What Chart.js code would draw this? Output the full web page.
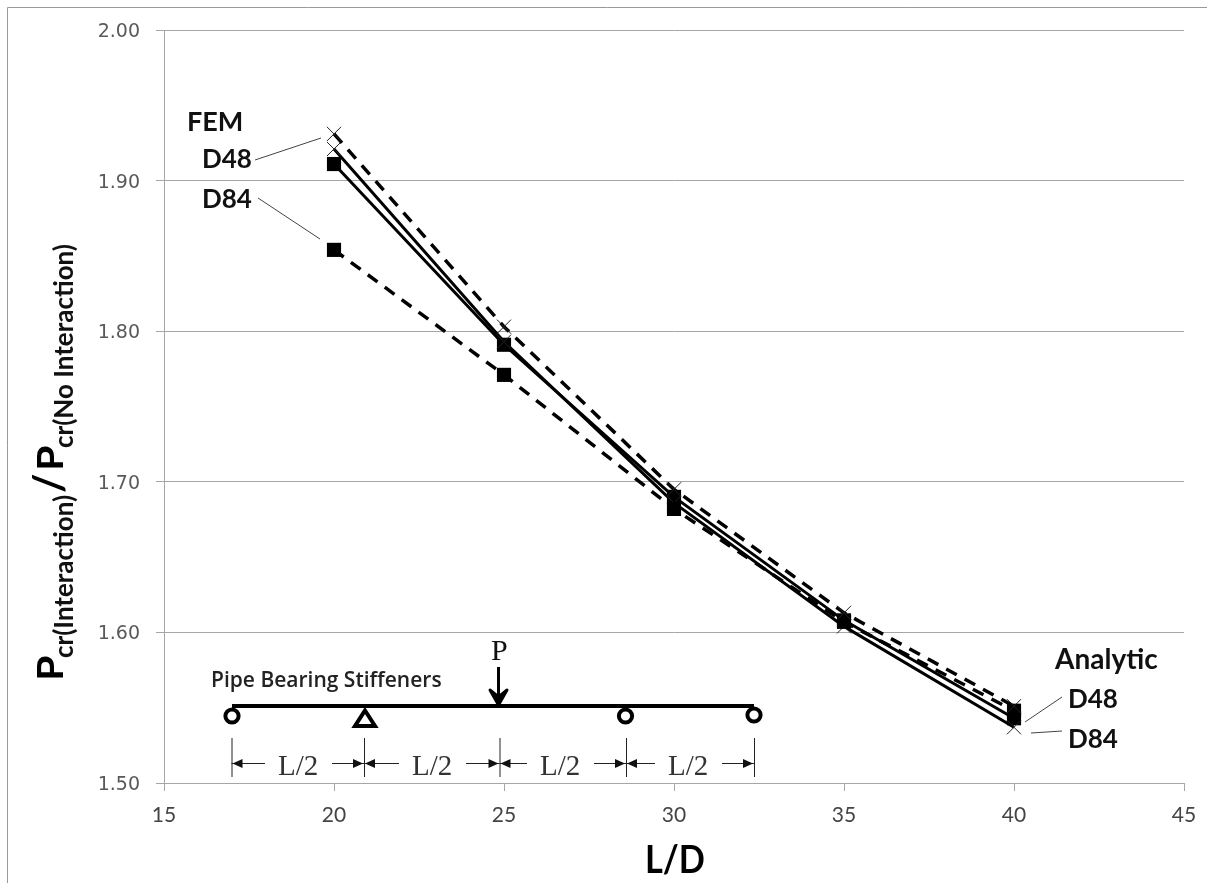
<!DOCTYPE html>
<html>
<head>
<meta charset="utf-8">
<title>Interaction ratio vs L/D</title>
<script src="https://cdn.jsdelivr.net/npm/chart.js@4"></script>
<style>
  html, body { margin: 0; padding: 0; background: #fff; overflow: hidden; }
  #wrap { width: 1207px; height: 883px; }
</style>
</head>
<body>
<div id="wrap"><canvas id="chart" width="1207" height="883"></canvas></div>
<script>
const ldValues = [20, 25, 30, 35, 40];
const analyticD48 = [1.911, 1.791, 1.690, 1.608, 1.543];
const analyticD84 = [1.921, 1.793, 1.686, 1.604, 1.537];
const femD48 = [1.931, 1.803, 1.695, 1.613, 1.551];
const femD84 = [1.854, 1.771, 1.682, 1.607, 1.548];

const xTicks = [15, 20, 25, 30, 35, 40, 45];
const yTicks = [1.5, 1.6, 1.7, 1.8, 1.9, 2.0];

const black = '#000';
const tickColor = '#595959';
const gridColor = '#a6a6a6';
const labelFont = 'Lato, sans-serif';

function points(values) {
    return ldValues.map((x, i) => ({ x: x, y: values[i] }));
}

function series(label, values, marker, dashed) {
    return {
        label: label,
        data: points(values),
        showLine: true,
        borderColor: black,
        backgroundColor: black,
        borderWidth: dashed ? 3.5 : 3,
        borderDash: dashed ? [12, 9] : [],
        tension: 0,
        pointStyle: marker,
        pointRadius: 10,
        pointBorderWidth: marker === 'crossRot' ? 1 : 0,
        pointBorderColor: '#222',
        pointBackgroundColor: black
    };
}

function seg(ctx, x1, y1, x2, y2) {
    ctx.beginPath();
    ctx.moveTo(x1, y1);
    ctx.lineTo(x2, y2);
    ctx.stroke();
}

function text(ctx, str, x, y, font, color, maxWidth) {
    ctx.font = font;
    ctx.fillStyle = color || '#111';
    if (maxWidth) ctx.fillText(str, x, y, maxWidth);
    else ctx.fillText(str, x, y);
}

// small head for the L/2 dimension arrows
function head(ctx, x, y, dir) {
    ctx.beginPath();
    ctx.moveTo(x, y);
    ctx.lineTo(x + dir * 10, y - 4.5);
    ctx.lineTo(x + dir * 10, y + 4.5);
    ctx.closePath();
    ctx.fill();
}

// outer frame, only its top and left edges are inside the picture
const framePlugin = {
    id: 'frame',
    beforeDraw(chart) {
        const ctx = chart.ctx;
        ctx.save();
        ctx.strokeStyle = '#999';
        ctx.lineWidth = 1;
        seg(ctx, 7.5, 883, 7.5, 7.5);
        seg(ctx, 7.5, 7.5, 1207, 7.5);
        ctx.restore();
    }
};

// callouts, axis titles and the beam sketch
const notesPlugin = {
    id: 'notes',
    afterDraw(chart) {
        const ctx = chart.ctx;
        ctx.save();
        ctx.textAlign = 'left';
        ctx.textBaseline = 'alphabetic';

        // callout text
        const bold = 'bold 26px ' + labelFont;
        text(ctx, 'FEM', 187, 131, 'bold 27px ' + labelFont);
        text(ctx, 'D48', 202, 168, bold);
        text(ctx, 'D84', 202, 208, bold);
        text(ctx, 'Analytic', 1055, 669, 'bold 28px ' + labelFont);
        text(ctx, 'D48', 1068, 708, bold);
        text(ctx, 'D84', 1068, 748, bold);

        // callout leaders
        ctx.strokeStyle = '#444';
        ctx.lineWidth = 1;
        seg(ctx, 255, 160, 321, 138);
        seg(ctx, 258, 198, 320, 239);
        seg(ctx, 1025, 722, 1062, 697);
        seg(ctx, 1031, 733, 1062, 731);

        // x axis title
        text(ctx, 'L/D', 645, 873, 'bold 39px ' + labelFont, '#000', 60);

        // y axis title with subscripts, pieces fitted to their lengths
        ctx.save();
        ctx.translate(63, 680);
        ctx.rotate(-Math.PI / 2);
        const big = 'bold 37px "Liberation Sans Narrow", sans-serif';
        const sub = 'bold 26px ' + labelFont;
        text(ctx, 'P', 0, 0, big, '#000');
        text(ctx, 'cr(Interaction)', 22, 10, sub, '#111', 165);
        text(ctx, '/', 187, 0, 'bold 42px ' + labelFont, '#000', 22);
        text(ctx, 'P', 210, 0, big, '#000');
        text(ctx, 'cr(No Interaction)', 232, 10, sub, '#111', 211);
        ctx.restore();

        // beam
        ctx.strokeStyle = black;
        ctx.fillStyle = black;
        ctx.lineWidth = 4;
        seg(ctx, 232, 706, 754, 706);

        // rollers
        ctx.lineWidth = 4;
        [[232, 716], [625.5, 716], [754, 715]].forEach(c => {
            ctx.beginPath();
            ctx.arc(c[0], c[1], 6.6, 0, Math.PI * 2);
            ctx.fillStyle = '#fff';
            ctx.fill();
            ctx.stroke();
        });

        // pin support
        ctx.lineWidth = 4;
        ctx.lineJoin = 'miter';
        ctx.beginPath();
        ctx.moveTo(365, 710.5);
        ctx.lineTo(375, 726);
        ctx.lineTo(355, 726);
        ctx.closePath();
        ctx.fillStyle = '#fff';
        ctx.fill();
        ctx.stroke();

        // load arrow
        ctx.lineWidth = 3;
        ctx.lineJoin = 'round';
        ctx.fillStyle = black;
        seg(ctx, 498.5, 667, 498.5, 702);
        ctx.beginPath();
        ctx.moveTo(498.5, 705);
        ctx.lineTo(490, 690);
        ctx.lineTo(498.5, 697);
        ctx.lineTo(507, 690);
        ctx.closePath();
        ctx.fill();
        ctx.stroke();

        const serif = '"Liberation Serif", serif';
        text(ctx, 'P', 491, 660, '30px ' + serif);
        text(ctx, 'Pipe Bearing Stiffeners', 211, 687, '600 21px "Open Sans", sans-serif', '#222', 232);

        // L/2 dimensions
        const stops = [231.5, 364, 499.5, 626, 754];
        const labelX = [278, 412, 540, 668];
        ctx.lineWidth = 1;
        ctx.strokeStyle = '#222';
        ctx.fillStyle = '#111';
        stops.forEach(x => seg(ctx, x + 0.5, 738, x + 0.5, 777));
        labelX.forEach((lx, i) => {
            const a = stops[i], b = stops[i + 1];
            seg(ctx, a, 763.5, lx - 13, 763.5);
            seg(ctx, lx + 54, 763.5, b, 763.5);
            head(ctx, a + 1, 763.5, 1);
            head(ctx, b - 1, 763.5, -1);
            text(ctx, 'L/2', lx, 775, '29px ' + serif, '#333');
            ctx.fillStyle = '#111';
        });
        ctx.restore();
    }
};

new Chart(document.getElementById('chart'), {
    type: 'scatter',
    data: {
        datasets: [
            series('FEM D48', femD48, 'crossRot', true),
            series('FEM D84', femD84, 'rect', true),
            series('Analytic D84', analyticD84, 'crossRot', false),
            series('Analytic D48', analyticD48, 'rect', false)
        ]
    },
    options: {
        responsive: false,
        animation: false,
        layout: { padding: { top: 30, right: 23, left: 0, bottom: 0 } },
        plugins: {
            legend: { display: false },
            tooltip: { enabled: false }
        },
        scales: {
            x: {
                type: 'linear',
                min: 15,
                max: 45,
                afterFit(scale) {
                    scale.height = 100;
                    scale.paddingLeft = 0;
                    scale.paddingRight = 0;
                },
                afterBuildTicks(scale) { scale.ticks = xTicks.map(v => ({ value: v })); },
                grid: { drawOnChartArea: false, drawTicks: true, tickLength: 8, color: gridColor },
                border: { color: gridColor },
                ticks: {
                    color: '#444',
                    padding: 12,
                    maxRotation: 0,
                    font: { family: 'Lato', size: 21 },
                    callback: v => String(v)
                }
            },
            y: {
                type: 'linear',
                min: 1.5,
                max: 2.0,
                afterFit(scale) { scale.width = 164; },
                afterBuildTicks(scale) { scale.ticks = yTicks.map(v => ({ value: v })); },
                grid: { drawOnChartArea: true, drawTicks: true, tickLength: 8, color: gridColor },
                border: { color: gridColor },
                ticks: {
                    color: tickColor,
                    padding: 16,
                    labelOffset: 2,
                    font: { family: 'DejaVu Sans', size: 19 },
                    callback: v => v.toFixed(2)
                }
            }
        }
    },
    plugins: [framePlugin, notesPlugin]
});
</script>
</body>
</html>
